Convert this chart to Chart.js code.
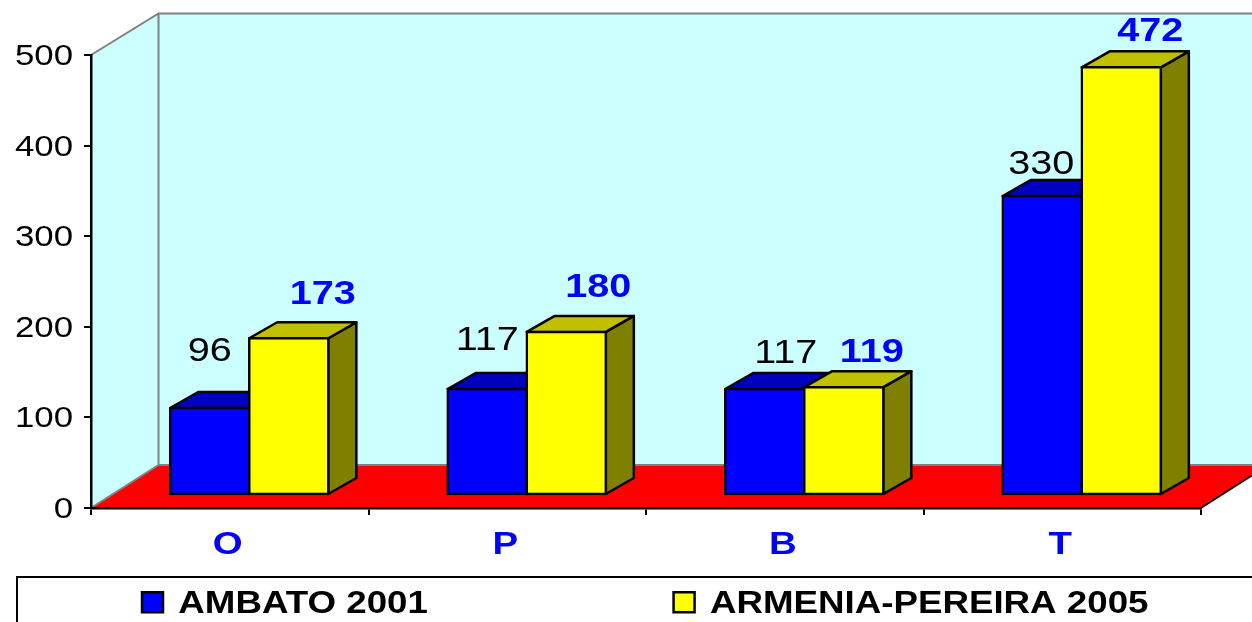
<!DOCTYPE html>
<html>
<head>
<meta charset="utf-8">
<style>html,body{margin:0;padding:0;background:#fff;overflow:hidden}canvas{display:block}</style>
<script src="https://cdn.jsdelivr.net/npm/chart.js@4"></script>
</head>
<body>
<canvas id="c" width="1252" height="622"></canvas>
<script>
const categories = ['O', 'P', 'B', 'T'];
const ambato2001 = [96, 117, 117, 330];
const armeniaPereira2005 = [173, 180, 119, 472];
const yTicks = [0, 100, 200, 300, 400, 500];
const seriesNames = ['AMBATO 2001', 'ARMENIA-PEREIRA 2005'];

// label nudges relative to each bar's top centre [dx, dy]
const ambatoLabelNudge = [[0, -58], [0, -50], [21, -37], [-1, -33]];
const armeniaLabelNudge = [[34, -45], [32, -46], [28, -36], [29, -37]];

const FONT = '"Liberation Sans", Arial, sans-serif';
const STRETCH = 1.2;
const SHIFT = { x: 19.5, y: -13 };   // bars stand inside the floor
const BAR_DEPTH = { x: 28, y: -16 };
const WALL_DEPTH = { x: 67.5, y: -43 };
const WALL_TOP_RISE = -41.5;

const canvas = document.getElementById('c');
const ctx = canvas.getContext('2d');

// The reference's text is horizontally stretched; keep it real text but widen it.
const rawFill = ctx.fillText.bind(ctx);
const rawMeasure = ctx.measureText.bind(ctx);
ctx.fillText = function (t, x, y, m) {
  ctx.save();
  ctx.translate(x, ctx.textBaseline === 'middle' ? y + 2 : y);
  ctx.scale(STRETCH, 1);
  if (m === undefined) rawFill(t, 0, 0); else rawFill(t, 0, 0, m / STRETCH);
  ctx.restore();
};
ctx.measureText = function (t) {
  return { width: rawMeasure(t).width * STRETCH };
};

function poly(c, pts, fill, stroke, lw) {
  c.beginPath();
  pts.forEach((p, i) => i ? c.lineTo(p[0], p[1]) : c.moveTo(p[0], p[1]));
  c.closePath();
  if (fill) { c.fillStyle = fill; c.fill(); }
  if (stroke) { c.strokeStyle = stroke; c.lineWidth = lw; c.lineJoin = 'round'; c.stroke(); }
}

const scene3d = {
  id: 'scene3d',
  beforeLayout(chart) {
    const l = chart.legend, baseFit = Object.getPrototypeOf(l).fit;
    l.fit = function () { baseFit.call(this); this.height = 44; this.width = chart.width; };
  },
  afterLayout(chart) {
    const l = chart.legend, P = chart.options.plugins.legend.labels.padding;
    l.left = 142 - P;
    l.right = 6000;
    l.top = 587 - P;
    l.bottom = 622;
  },
  beforeDraw(chart) {
    const c = chart.ctx, a = chart.chartArea, W = chart.width;
    const fx = a.left + WALL_DEPTH.x, ty = a.top + WALL_TOP_RISE, fy = a.bottom + WALL_DEPTH.y;
    c.save();
    // legend frame
    c.strokeStyle = '#000'; c.lineWidth = 2;
    c.strokeRect(17, 577, W + 20, 80);
    // walls
    poly(c, [[a.left, a.top], [fx, ty], [fx, fy], [a.left, a.bottom]], '#CCFFFF');
    poly(c, [[fx, ty], [W + 5, ty], [W + 5, fy], [fx, fy]], '#CCFFFF');
    // floor
    poly(c, [[a.left, a.bottom], [fx, fy], [a.right + WALL_DEPTH.x, fy], [a.right, a.bottom]], '#FF0000');
    // wall outlines
    c.strokeStyle = '#808080'; c.lineWidth = 2;
    c.beginPath();
    c.moveTo(a.left, a.top); c.lineTo(fx, ty); c.lineTo(W + 5, ty);
    c.moveTo(fx, ty); c.lineTo(fx, fy); c.lineTo(a.left, a.bottom);
    c.moveTo(fx, fy); c.lineTo(W + 5, fy);
    c.stroke();
    c.strokeStyle = '#000'; c.lineWidth = 1.5;
    c.beginPath();
    c.moveTo(a.right, a.bottom); c.lineTo(a.right + WALL_DEPTH.x, fy);
    c.stroke();
    c.restore();
  },
  // Left series first, so each yellow bar sits in front of its blue neighbour.
  beforeDatasetsDraw(chart) {
    const c = chart.ctx, dx = BAR_DEPTH.x, dy = BAR_DEPTH.y;
    c.save();
    c.translate(SHIFT.x, SHIFT.y);
    chart.data.datasets.forEach((ds, i) => {
      const meta = chart.getDatasetMeta(i);
      meta.data.forEach(b => {
        const L = b.x - b.width / 2, R = b.x + b.width / 2, T = b.y, B = b.base;
        poly(c, [[R, T], [R + dx, T + dy], [R + dx, B + dy], [R, B]], ds.sideColor, '#000', 2.5);
        poly(c, [[L, T], [L + dx, T + dy], [R + dx, T + dy], [R, T]], ds.topColor, '#000', 2.5);
      });
      meta.controller.draw();
    });
    c.restore();
    c.save();
    c.textAlign = 'center';
    c.textBaseline = 'middle';
    chart.data.datasets.forEach((ds, i) => {
      chart.getDatasetMeta(i).data.forEach((b, j) => {
        c.font = ds.labelFont;
        c.fillStyle = ds.labelColor;
        const n = ds.labelNudge[j];
        c.fillText(String(ds.data[j]), b.x + SHIFT.x + n[0], b.y + SHIFT.y + n[1]);
      });
    });
    c.restore();
    return false;
  }
};

const chart = new Chart(ctx, {
  type: 'bar',
  plugins: [scene3d],
  data: {
    labels: categories,
    datasets: [
      {
        label: seriesNames[0], data: ambato2001,
        backgroundColor: '#0000FF', borderColor: '#000', borderWidth: 2.5, borderSkipped: false, inflateAmount: 1.25,
        sideColor: '#000080', topColor: '#0000C0',
        labelColor: '#000', labelFont: '33px ' + FONT, labelNudge: ambatoLabelNudge
      },
      {
        label: seriesNames[1], data: armeniaPereira2005,
        backgroundColor: '#FFFF00', borderColor: '#000', borderWidth: 2.5, borderSkipped: false, inflateAmount: 1.25,
        sideColor: '#808000', topColor: '#C0C000',
        labelColor: '#0000FF', labelFont: 'bold 33px ' + FONT, labelNudge: armeniaLabelNudge
      }
    ]
  },
  options: {
    responsive: false,
    animation: false,
    devicePixelRatio: 1,
    layout: { padding: { top: 55, right: 51, left: 0, bottom: 0 } },
    datasets: { bar: { categoryPercentage: 0.57, barPercentage: 1 } },
    plugins: {
      tooltip: { enabled: false },
      title: { display: false },
      legend: {
        display: true,
        position: 'bottom',
        align: 'start',
        labels: {
          boxWidth: 21, boxHeight: 20, padding: 245.7, color: '#000',
          font: { family: FONT, size: 30.6, weight: 'bold' }
        }
      }
    },
    scales: {
      x: {
        afterFit(s) { s.height = 70; },
        grid: { display: true, drawOnChartArea: false, color: '#000', lineWidth: 2, tickLength: 7, offset: true },
        border: { display: true, color: '#000', width: 2.5 },
        ticks: {
          color: '#0000FF', padding: 9, labelOffset: -2, maxRotation: 0,
          font: { family: FONT, size: 32, weight: 'bold' }
        }
      },
      y: {
        min: 0, max: 500,
        afterFit(s) { s.width = 91; },
        afterBuildTicks(s) { s.ticks = yTicks.map(v => ({ value: v })); },
        grid: { display: true, drawOnChartArea: false, color: '#000', lineWidth: 2, tickLength: 7 },
        border: { display: true, color: '#000', width: 2.5 },
        ticks: {
          color: '#000', padding: 11,
          font: { family: FONT, size: 29 }
        }
      }
    }
  }
});
</script>
</body>
</html>
